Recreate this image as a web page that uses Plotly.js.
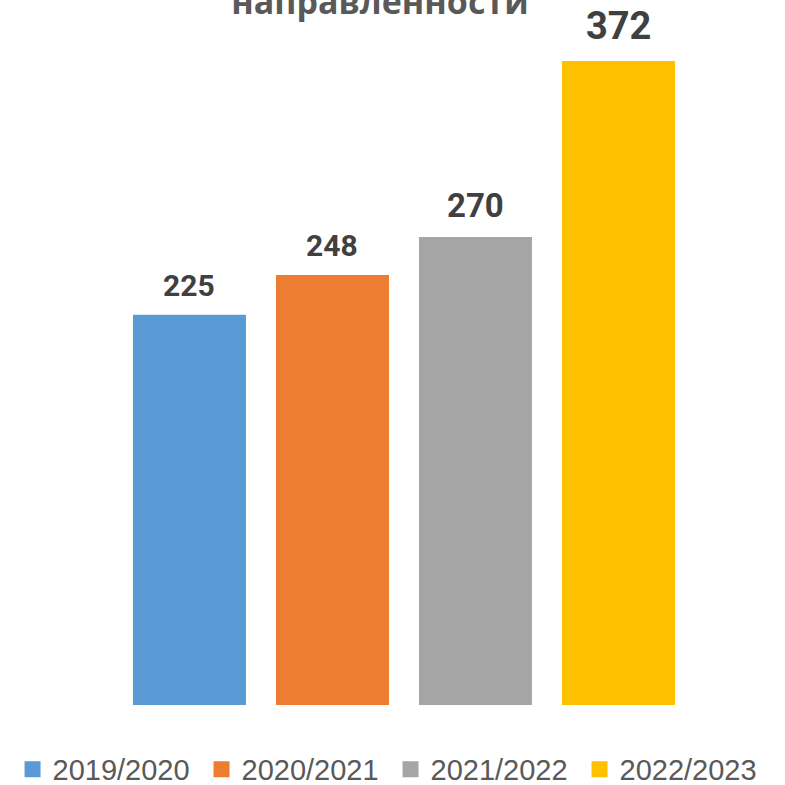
<!DOCTYPE html>
<html><head><meta charset="utf-8">
<script src="https://cdn.plot.ly/plotly-3.0.1.min.js"></script>
<style>html,body{margin:0;padding:0;background:#fff}</style>
</head><body>
<div id="chart" style="width:785px;height:785px"></div>
<script>
const categories = ["2019/2020", "2020/2021", "2021/2022", "2022/2023"];
const values = [225, 248, 270, 372];
const titleText = "направленности";

// styling (not data)
const colors = ["#5B9BD5", "#ED7D31", "#A5A5A5", "#FFC000"];
const labelFontSizes = [30, 30, 33, 38];
const labelShifts = [12, 12, 12, 13];

const traces = categories.map((c, i) => ({
  type: "bar",
  name: c,
  x: [c],
  y: [values[i]],
  width: 0.762,
  marker: {color: colors[i], line: {color: colors[i], width: 4}},
  hoverinfo: "none"
}));

const annotations = categories.map((c, i) => ({
  x: c, y: values[i], xref: "x", yref: "y",
  text: "<b>" + values[i] + "</b>",
  showarrow: false, yanchor: "bottom", yshift: labelShifts[i],
  font: {family: "Roboto, Open Sans, sans-serif", size: labelFontSizes[i], color: "#404040"}
}));

const layout = {
  width: 785, height: 785,
  margin: {l: 0, r: 0, t: 13, b: 80},
  paper_bgcolor: "#fff", plot_bgcolor: "#fff",
  barmode: "overlay",
  showlegend: true,
  title: {
    text: "<b>" + titleText + "</b>",
    font: {family: "Open Sans, DejaVu Sans, sans-serif", size: 34, color: "#595959"},
    x: 0.484, xref: "container", xanchor: "center",
    y: 0.9975, yref: "container", yanchor: "middle", pad: {t: 0, b: 0}
  },
  xaxis: {type: "category", range: [-1.325, 4.1645], showticklabels: false, showgrid: false, zeroline: false, showline: false, ticks: "", fixedrange: true},
  yaxis: {range: [0, 401], showticklabels: false, showgrid: false, zeroline: false, showline: false, ticks: "", fixedrange: true},
  legend: {
    orientation: "h", x: 0.4975, xref: "container", xanchor: "center",
    y: 0.02, yref: "container", yanchor: "middle",
    entrywidth: 144,
    font: {family: "Liberation Sans, Arial, sans-serif", size: 29, color: "#595959"},
    itemclick: false, itemdoubleclick: false, tracegroupgap: 0
  },
  annotations: annotations
};
Plotly.newPlot("chart", traces, layout, {displayModeBar: false, staticPlot: true});
</script>
</body></html>
